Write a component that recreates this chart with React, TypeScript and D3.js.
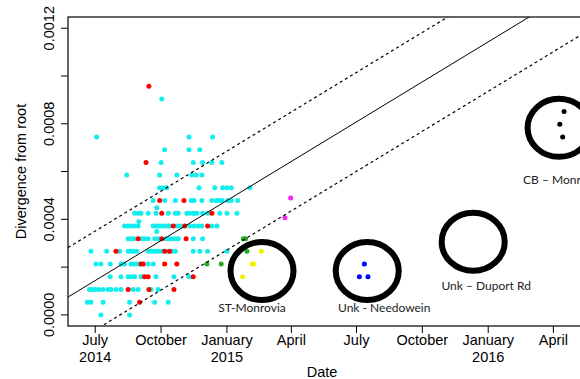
import React from "react";
import * as d3 from "d3";

const W = 580;
const H = 379;
const box = { left: 68, top: 17, right: 582, bottom: 326 };

const parse = d3.utcParse("%Y-%m-%d");
// divergence of one substitution along the alignment
const perSnp = 1 / 18800;

const xDomain = ["2014-05-24", "2016-05-11"];
const yDomain = [-0.0000465, 0.001247];

const xTickDates = ["2014-07-01", "2014-10-01", "2015-01-01", "2015-04-01", "2015-07-01", "2015-10-01", "2016-01-01", "2016-04-01"];
const xTickLabels = [["July", "2014"], ["October"], ["January", "2015"], ["April"], ["July"], ["October"], ["January", "2016"], ["April"]];
const yTickValues = [0, 0.0002, 0.0004, 0.0006, 0.0008, 0.001, 0.0012];
const yTickLabels = ["0.0000", "", "0.0004", "", "0.0008", "", "0.0012"];

// root-to-tip regression and its band
const rootDate = "2014-04-13";
const ratePerDay = 1.82e-6;
const bandHalf = 0.000207;

// rows: [substitutions, dates]
const cyanRows: [number, string[]][] = [
  [0, ["2014-07-09", "2014-08-18"]],
  [1, ["2014-06-20", "2014-06-25", "2014-07-12", "2014-08-18", "2014-09-22", "2014-10-11"]],
  [2, ["2014-06-23", "2014-06-27", "2014-07-01", "2014-07-06", "2014-07-12", "2014-07-19", "2014-07-23", "2014-07-30", "2014-08-06", "2014-08-23", "2014-08-30", "2014-09-17", "2014-09-27"]],
  [3, ["2014-07-22", "2014-08-06", "2014-08-16", "2014-08-20", "2014-08-25", "2014-09-03", "2014-09-07", "2014-09-24", "2014-10-19", "2014-11-09"]],
  [4, ["2014-07-02", "2014-07-09", "2014-07-22", "2014-08-06", "2014-08-11", "2014-08-20", "2014-08-24", "2014-08-28", "2014-09-01", "2014-09-13", "2014-09-20"]],
  [5, ["2014-06-25", "2014-07-17", "2014-08-04", "2014-08-16", "2014-08-20", "2014-08-24", "2014-08-28", "2014-09-13", "2014-09-17", "2014-09-21", "2014-09-25", "2014-09-29", "2014-10-04", "2014-10-11", "2014-10-16", "2014-10-21", "2014-11-15", "2014-11-24", "2014-12-05", "2015-01-01"]],
  [6, ["2014-08-16", "2014-08-20", "2014-08-24", "2014-09-04", "2014-09-08", "2014-09-13", "2014-09-22", "2014-09-27", "2014-10-08", "2014-10-12", "2014-10-16", "2014-10-21", "2014-10-25", "2014-11-15", "2014-11-28"]],
  [7, ["2014-08-11", "2014-08-16", "2014-08-20", "2014-08-25", "2014-08-30", "2014-09-20", "2014-09-24", "2014-09-28", "2014-10-02", "2014-10-06", "2014-10-11", "2014-10-13", "2014-10-23", "2014-10-28", "2014-11-10", "2014-11-16", "2014-11-22", "2014-11-27", "2014-12-11", "2014-12-18"]],
  [8, ["2014-08-25", "2014-08-30", "2014-09-03", "2014-09-13", "2014-09-24", "2014-10-11", "2014-10-21", "2014-10-25", "2014-11-06", "2014-11-10", "2014-11-15", "2014-11-17", "2014-11-20", "2014-11-28", "2014-12-05", "2014-12-22", "2015-01-01", "2015-01-15"]],
  [9, ["2014-09-20", "2014-10-06", "2014-10-21", "2014-11-12", "2014-11-16", "2014-11-27", "2014-12-11", "2014-12-17", "2014-12-21", "2014-12-25", "2015-01-02", "2015-01-07", "2015-01-16"]],
  [10, ["2014-09-29", "2014-10-04", "2014-10-09", "2014-11-23", "2014-12-15", "2014-12-26", "2015-01-01", "2015-01-07", "2015-02-02"]],
  [11, ["2014-08-14", "2014-09-29", "2014-10-23", "2014-11-13", "2014-11-19", "2014-11-27"]],
  [12, ["2014-10-01", "2014-11-15", "2014-11-28", "2014-12-11", "2014-12-25"]],
  [13, ["2014-10-06", "2014-11-09", "2014-11-24"]],
  [14, ["2014-07-03", "2014-11-09", "2014-12-12"]],
  [17, ["2014-10-02"]],
  [7.35, ["2014-08-31"]],
  [8.43, ["2014-09-25"]],
  [6.56, ["2014-09-25"]],
];

const redRows: [number, string[]][] = [
  [1, ["2014-09-01"]],
  [2, ["2014-08-16", "2014-09-14", "2014-10-19"]],
  [3, ["2014-09-08", "2014-09-13", "2014-11-15"]],
  [4, ["2014-09-03", "2014-09-06", "2014-10-06", "2014-10-23"]],
  [5, ["2014-07-30", "2014-10-06", "2014-10-13"]],
  [6, ["2014-08-30", "2014-10-02", "2014-11-05"]],
  [7, ["2014-10-18", "2014-11-03", "2014-12-05"]],
  [8, ["2014-10-02", "2014-12-11"]],
  [9, ["2014-09-29", "2014-11-02"]],
  [12, ["2014-09-10"]],
  [18, ["2014-09-14"]],
];

const greenRows: [number, string[]][] = [
  [6, ["2015-01-24", "2015-01-27"]],
  [5, ["2015-01-29"]],
  [4, ["2014-12-04", "2014-12-24"]],
];
const yellowRows: [number, string[]][] = [
  [5, ["2015-02-18"]],
  [4, ["2015-02-05", "2015-02-08"]],
  [3, ["2015-01-23"]],
];
const magentaRows: [number, string[]][] = [
  [9.2, ["2015-03-31"]],
  [7.65, ["2015-03-23"]],
];
const blueRows: [number, string[]][] = [
  [4, ["2015-07-12"]],
  [3, ["2015-07-05", "2015-07-17"]],
];
const blackRows: [number, string[]][] = [
  [16, ["2016-04-16"]],
  [15, ["2016-04-10"]],
  [14, ["2016-04-14"]],
];

const groups = [
  { rows: cyanRows, color: "#12eeee" },
  { rows: redRows, color: "#ff0000" },
  { rows: greenRows, color: "#22aa22" },
  { rows: yellowRows, color: "#f2f200" },
  { rows: magentaRows, color: "#ff22ff" },
  { rows: blueRows, color: "#0000ff" },
  { rows: blackRows, color: "#000000" },
];

// circled lineages
const ringLabels = ["ST-Monrovia", "Unk - Needowein", "Unk \u2013 Duport Rd", "CB \u2013 Monrovia"];
const ringDates = ["2015-02-19", "2015-07-16", "2015-12-11", "2016-04-09"];
const ringValues = [0.000184, 0.000184, 0.000306, 0.000783];
const ringText = [
  { dx: -10, dy: 41, anchor: "middle" },
  { dx: 17, dy: 41, anchor: "middle" },
  { dx: 13, dy: 48, anchor: "middle" },
  { dx: -36, dy: 56, anchor: "start" },
];

const font = "'Liberation Sans', Arial, Helvetica, sans-serif";

export default function App() {
  const x = d3
    .scaleUtc()
    .domain(xDomain.map((d) => parse(d) as Date))
    .range([box.left, box.right]);
  const y = d3.scaleLinear().domain(yDomain).range([box.bottom, box.top]);

  const root = parse(rootDate) as Date;
  const clock = (d: Date) => ((d.getTime() - root.getTime()) / 864e5) * ratePerDay;
  const ends = x.domain();
  const lineFor = (off: number) =>
    d3
      .line<Date>()
      .x((d) => x(d))
      .y((d) => y(clock(d) + off))(ends) as string;

  return (
    <svg
      width={W}
      height={H}
      style={{ position: "absolute", left: 0, top: 0, background: "#fff" }}
      fontFamily={font}
    >
      <defs>
        <clipPath id="plotArea">
          <rect x={box.left} y={box.top} width={box.right - box.left} height={box.bottom - box.top} />
        </clipPath>
      </defs>

      {/* points */}
      <g clipPath="url(#plotArea)">
        {groups.map((g, gi) =>
          g.rows.map(([k, dates], ri) =>
            dates.map((d, i) => (
              <circle
                key={`${gi}-${ri}-${i}`}
                cx={x(parse(d) as Date)}
                cy={y(k * perSnp)}
                r={2.5}
                fill={g.color}
              />
            ))
          )
        )}
      </g>

      {/* regression lines */}
      <g clipPath="url(#plotArea)" fill="none" stroke="#000">
        <path d={lineFor(0)} strokeWidth={1} />
        <path d={lineFor(bandHalf)} strokeWidth={1.2} strokeDasharray="3,3" />
        <path d={lineFor(-bandHalf)} strokeWidth={1.2} strokeDasharray="3,3" />
      </g>

      {/* box */}
      <rect
        x={box.left}
        y={box.top}
        width={box.right - box.left}
        height={box.bottom - box.top}
        fill="none"
        stroke="#000"
        strokeWidth={1.2}
      />

      {/* x axis */}
      <g fontSize={14.5} textAnchor="middle" fill="#000">
        {xTickDates.map((d, i) => {
          const px = x(parse(d) as Date);
          return (
            <g key={d}>
              <line x1={px} x2={px} y1={box.bottom} y2={box.bottom + 7} stroke="#000" strokeWidth={1} />
              {xTickLabels[i].map((t, j) => (
                <text key={j} x={px} y={345 + j * 17}>
                  {t}
                </text>
              ))}
            </g>
          );
        })}
        <text x={322} y={376.5}>
          Date
        </text>
      </g>

      {/* y axis */}
      <g fontSize={14.5} textAnchor="middle" fill="#000">
        {yTickValues.map((v, i) => (
          <g key={v}>
            <line x1={box.left - 7} x2={box.left} y1={y(v)} y2={y(v)} stroke="#000" strokeWidth={1} />
            {yTickLabels[i] && (
              <text transform={`translate(53.5,${y(v)}) rotate(-90)`}>{yTickLabels[i]}</text>
            )}
          </g>
        ))}
        <text transform={`translate(25.5,${(box.top + box.bottom) / 2}) rotate(-90)`}>Divergence from root</text>
      </g>

      {/* annotations */}
      <g>
        {ringLabels.map((lab, i) => {
          const cx = x(parse(ringDates[i]) as Date);
          const cy = y(ringValues[i]);
          const t = ringText[i];
          return (
            <g key={lab}>
              <ellipse cx={cx} cy={cy} rx={31.5} ry={29} fill="none" stroke="#000" strokeWidth={6} />
              <text
                x={cx + t.dx}
                y={cy + t.dy}
                textAnchor={t.anchor}
                fontFamily="Lato, 'Open Sans', sans-serif"
                fontSize={12}
                fill="#222"
              >
                {lab}
              </text>
            </g>
          );
        })}
      </g>
    </svg>
  );
}
